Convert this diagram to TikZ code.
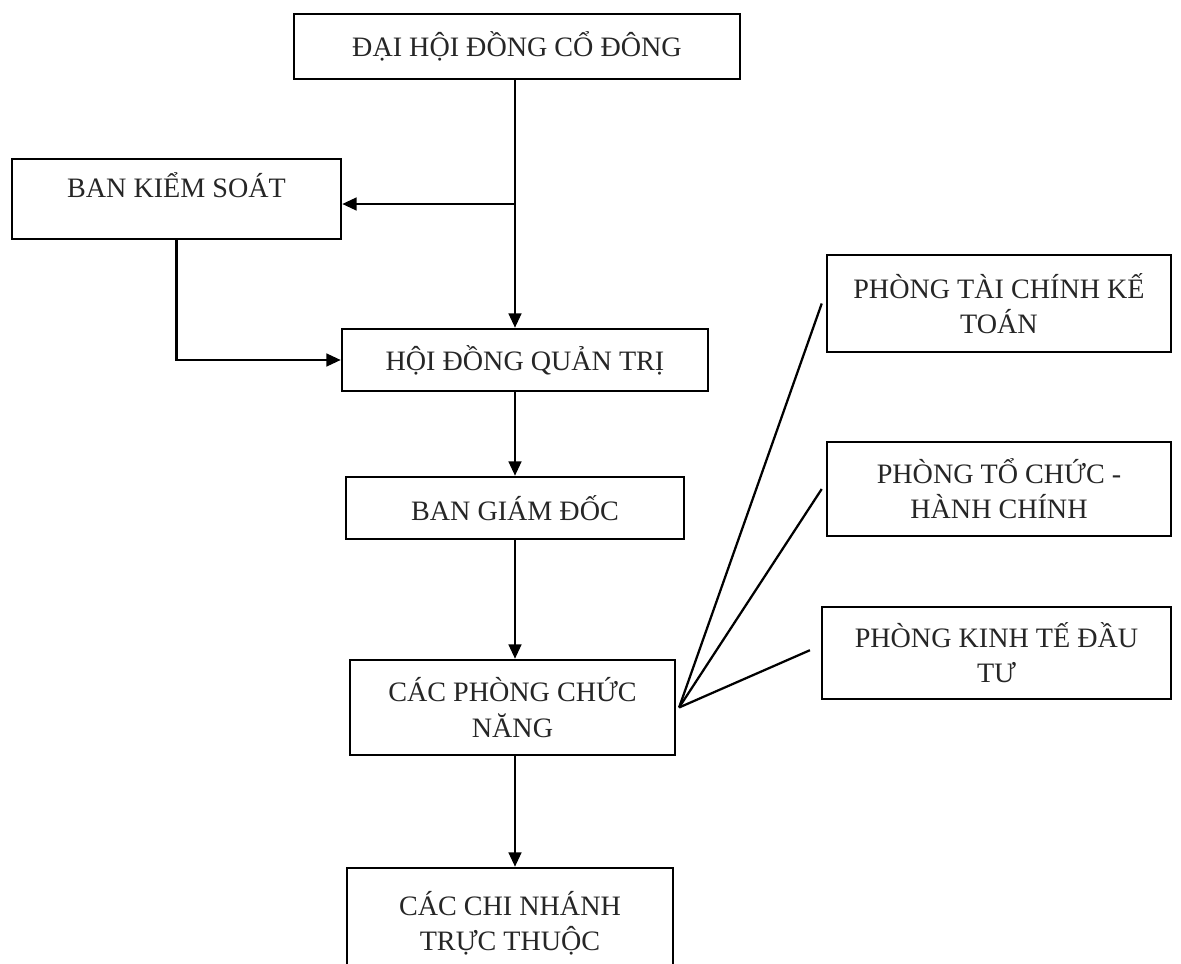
\documentclass[tikz,border=0pt]{standalone}
\usepackage{fontspec}
\setmainfont{Liberation Serif}
\usetikzlibrary{arrows.meta}
\begin{document}
\begin{tikzpicture}[>={Triangle[length=0.36cm,width=0.32cm]},
  box/.style={draw,line width=1.8pt,inner sep=0pt,align=center,text=black!85,font=\fontsize{20}{25}\selectfont},
  link/.style={line width=1.6pt}]
\useasboundingbox[fill=white] (0,0) rectangle (29.525,-24.1);
\node[box,minimum width=11.15cm,minimum height=1.625cm] (dhdcd) at (12.925,-1.1625) {ĐẠI HỘI ĐỒNG CỔ ĐÔNG};
\node[box,minimum width=8.225cm,minimum height=2cm,text height=0.625cm,text depth=0.7cm] (bks) at (4.4125,-4.975) {BAN KIỂM SOÁT};
\node[box,minimum width=9.15cm,minimum height=1.55cm] (hdqt) at (13.125,-9.0) {HỘI ĐỒNG QUẢN TRỊ};
\node[box,minimum width=8.45cm,minimum height=1.55cm] (bgd) at (12.875,-12.7) {BAN GIÁM ĐỐC};
\node[box,minimum width=8.125cm,minimum height=2.375cm] (cpcn) at (12.8125,-17.6875) {CÁC PHÒNG CHỨC\\NĂNG};
\node[box,minimum width=8.15cm,minimum height=2.75cm] (cncn) at (12.75,-23.075) {CÁC CHI NHÁNH\\TRỰC THUỘC};
\node[box,minimum width=8.6cm,minimum height=2.425cm] (tckt) at (24.975,-7.5875) {PHÒNG TÀI CHÍNH KẾ\\TOÁN};
\node[box,minimum width=8.6cm,minimum height=2.35cm] (tchc) at (24.975,-12.225) {PHÒNG TỔ CHỨC -\\HÀNH CHÍNH};
\node[box,minimum width=8.725cm,minimum height=2.3cm] (ktdt) at (24.9125,-16.325) {PHÒNG KINH TẾ ĐẦU\\TƯ};
\coordinate (split) at (12.875,-5.1);
\draw[link,->] (split |- dhdcd.south) -- (split |- hdqt.north);
\draw[link,->] (split) -- (split -| bks.east);
\draw[link,->] (bks.south) |- (hdqt.west);
\draw[link,->] (split |- hdqt.south) -- (split |- bgd.north);
\draw[link,->] (split |- bgd.south) -- (split |- cpcn.north);
\draw[link,->] (split |- cpcn.south) -- (split |- cncn.north);
\draw[link] ([xshift=2pt]cpcn.east) -- ([xshift=-0.1cm]tckt.west);
\draw[link] ([xshift=2pt]cpcn.east) -- ([xshift=-0.1cm]tchc.west);
\draw[link] ([xshift=2pt]cpcn.east) -- ([xshift=-0.27cm,yshift=0.07cm]ktdt.west);
\end{tikzpicture}
\end{document}
